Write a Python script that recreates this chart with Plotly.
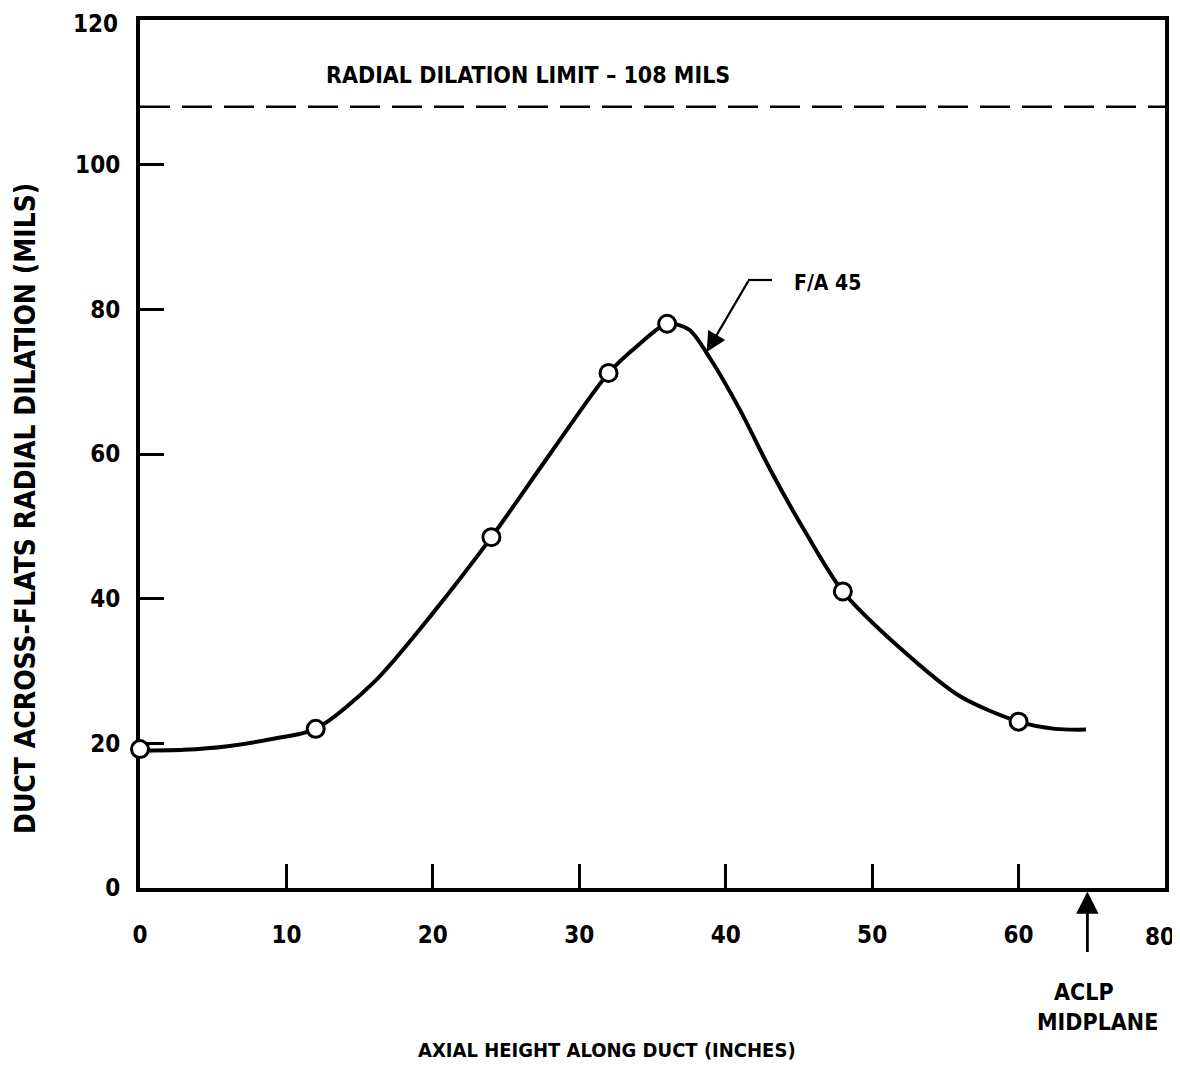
import plotly.graph_objects as go

# --- data ---
pts_x = [0, 12, 24, 32, 36, 48, 60]
pts_y = [19.2, 22, 48.5, 71.2, 78, 41, 23]

curve_x = [0, 3, 6, 9, 12, 16, 20, 24, 28, 32, 34, 36, 37.5, 39, 41, 43, 45.5, 48, 52, 56, 60, 62.5, 64.6]
curve_y = [19.0, 19.1, 19.6, 20.6, 22, 28.5, 38, 48.5, 60, 71.2, 75, 78, 77.2, 73, 66, 58, 49, 41, 33, 26.5, 23, 22, 21.9]

limit_y = 108
x_tickvals = [0, 10, 20, 30, 40, 50, 60, 70]
x_ticktext = ["0", "10", "20", "30", "40", "50", "60", "80"]
y_tickvals = [0, 20, 40, 60, 80, 100, 120]
y_ticktext = ["0", "20", "40", "60", "80", "100", "120"]
midplane_x = 64.7

FONT = "DejaVu Sans Condensed, Liberation Sans Narrow, Arial Narrow, sans-serif"

fig = go.Figure()
fig.add_trace(go.Scatter(x=curve_x, y=curve_y, mode="lines",
                         line=dict(color="black", width=4, shape="spline", smoothing=0.8),
                         hoverinfo="skip", showlegend=False))
fig.add_trace(go.Scatter(x=pts_x, y=pts_y, mode="markers",
                         marker=dict(size=17, color="white", line=dict(color="black", width=3)),
                         showlegend=False, cliponaxis=False))

# dashed limit line
fig.add_shape(type="line", xref="x", yref="y", x0=0, x1=70, y0=limit_y, y1=limit_y,
              line=dict(color="black", width=2.5, dash="30px,12px"))

# page pixel -> paper fraction (plot area: left 140, width 1025, top 20, height 868 on the page)
def px2paper(px, py):
    return (px - 140) / 1025, (888 - py) / 868

# leader for F/A 45
lx0, ly0 = px2paper(748, 280)
lx1, ly1 = px2paper(772, 280)
fig.add_shape(type="line", xref="paper", yref="paper", x0=lx0, x1=lx1, y0=ly0, y1=ly1,
              line=dict(color="black", width=2.2))
fig.add_annotation(x=38.7, y=74.1, ax=41.6, ay=84.1, xref="x", yref="y", axref="x", ayref="y",
                   text="", showarrow=True, arrowhead=2, arrowsize=1.8, arrowwidth=2.2, arrowcolor="black")

# ACLP midplane arrow
fig.add_annotation(x=midplane_x, y=-0.004, xref="x", yref="paper", ax=0, ay=62,
                   text="", showarrow=True, arrowhead=2, arrowsize=1.6, arrowwidth=2.8, arrowcolor="black")

def label(text, px, py, size, xanchor="center", angle=0):
    x, y = px2paper(px, py)
    fig.add_annotation(x=x, y=y, xref="paper", yref="paper", text=text, showarrow=False,
                       xanchor=xanchor, yanchor="middle", textangle=angle,
                       font=dict(family=FONT, size=size, color="black", weight="bold"))

label("RADIAL DILATION LIMIT – 108 MILS", 528, 75, 23)
label("F/A 45", 792, 283, 21, xanchor="left")
label("ACLP", 1084, 992, 23)
label("MIDPLANE", 1097, 1022, 23)
label("AXIAL HEIGHT ALONG DUCT (INCHES)", 607, 1050, 20)
label("DUCT ACROSS-FLATS RADIAL DILATION (MILS)", 25, 509, 28, angle=-90)

TICKFONT = dict(family=FONT, size=24, color="black", weight="bold")
# end tick labels at the frame corners, placed as annotations so they stay inside the window
fig.add_annotation(x=x_tickvals[-1], xref="x", y=px2paper(0, 937)[1], yref="paper", xshift=-5,
                   text=x_ticktext[-1], showarrow=False, xanchor="center", yanchor="middle",
                   font=TICKFONT)
fig.add_annotation(x=px2paper(120, 0)[0], xref="paper", y=y_tickvals[-1], yref="y", yshift=-4,
                   text=y_ticktext[-1], showarrow=False, xanchor="right", yanchor="middle",
                   font=TICKFONT)

axis_common = dict(showline=True, linecolor="black", linewidth=4, mirror=True, automargin=False,
                   showgrid=False, zeroline=False, ticks="inside", ticklen=24, tickwidth=3,
                   ticklabeloverflow="allow", layer="below traces",
                   tickcolor="black", tickfont=TICKFONT)
fig.update_xaxes(range=[0, 70], tickvals=x_tickvals[:-1], ticktext=x_ticktext[:-1],
                 ticklabelstandoff=22, **axis_common)
fig.update_yaxes(range=[0, 120], tickvals=y_tickvals[:-1], ticktext=y_ticktext[:-1],
                 ticklabelstandoff=11, **axis_common)

# the page body adds an 8px offset; size the figure so it fits the 1180x1070 window
fig.update_layout(width=1172, height=1062, margin=dict(l=132, r=15, t=12, b=182),
                  plot_bgcolor="white", paper_bgcolor="white", showlegend=False)

fig.write_html("out.html")
